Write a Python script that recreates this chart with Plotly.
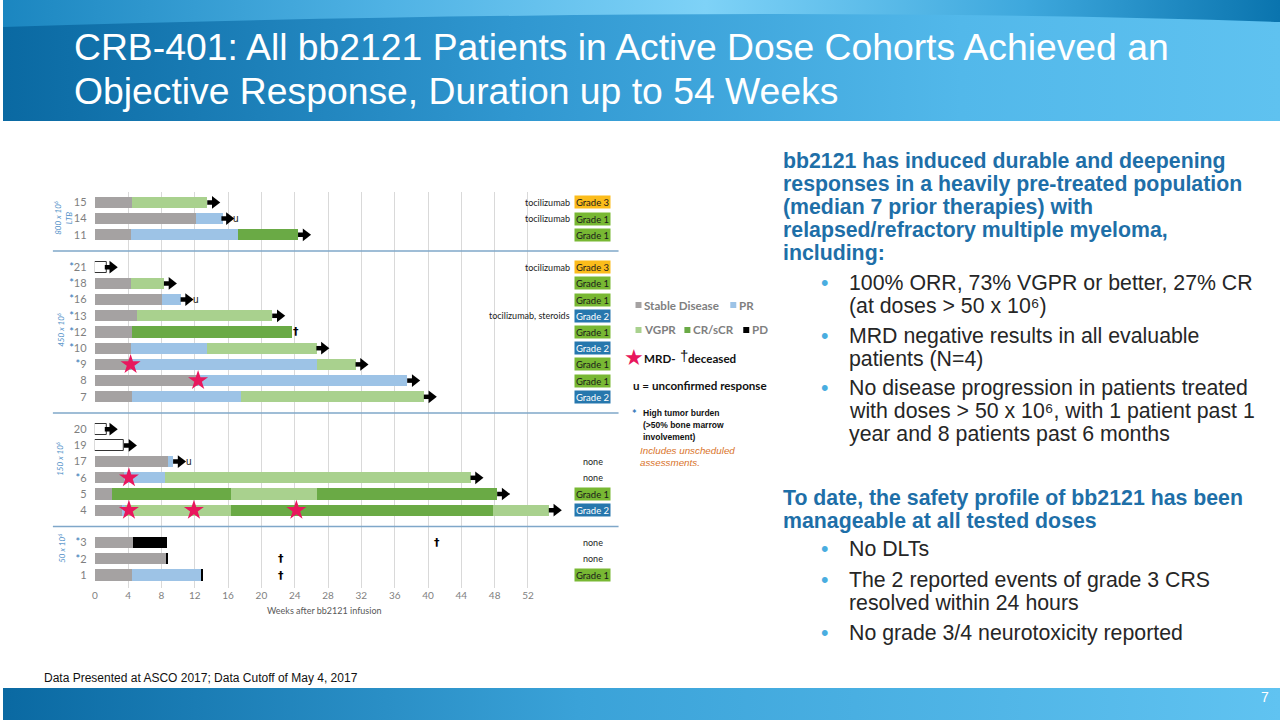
import base64
import plotly.graph_objects as go

W, H = 1280, 720

# ---------------- data ----------------
cohort_names = ["800 x 10<sup>6</sup><br>LTB", "450 x 10<sup>6</sup>", "150 x 10<sup>6</sup>", "50 x 10<sup>6</sup>"]
cohort_800 = ["15", "14", "11"]
cohort_450 = ["21", "18", "16", "13", "12", "10", "9", "8", "7"]
cohort_150 = ["20", "19", "17", "6", "5", "4"]
cohort_50 = ["3", "2", "1"]
high_burden = ["21", "18", "16", "13", "12", "10", "9", "6", "3", "2"]

# response segments (weeks after infusion)
sd_rows = ["15", "14", "11", "18", "16", "13", "12", "10", "9", "8", "7", "17", "6", "5", "4", "3", "2", "1"]
sd_end = [4.5, 12.1, 4.3, 4.3, 8.0, 5.0, 4.5, 4.3, 4.3, 12.4, 4.5, 8.8, 3.5, 2.1, 3.2, 4.6, 8.6, 4.5]

pr_rows = ["14", "11", "16", "10", "9", "8", "7", "17", "6", "4", "1"]
pr_start = [12.1, 4.3, 8.0, 4.3, 4.3, 12.4, 4.5, 8.8, 3.5, 3.2, 4.5]
pr_end = [15.4, 17.2, 10.3, 13.5, 26.6, 37.5, 17.5, 9.4, 8.4, 3.6, 12.7]

vgpr_rows = ["15", "18", "13", "10", "9", "7", "6", "5", "4", "4"]
vgpr_start = [4.5, 4.3, 5.0, 13.5, 26.6, 17.5, 8.4, 16.3, 3.6, 47.8]
vgpr_end = [13.5, 8.3, 21.3, 26.6, 31.3, 39.5, 45.1, 26.6, 16.3, 54.5]

cr_rows = ["11", "12", "5", "5", "4"]
cr_start = [17.2, 4.5, 2.1, 26.6, 16.3]
cr_end = [24.4, 23.6, 16.3, 48.3, 47.8]

pd_rows = ["3", "2", "1"]
pd_start = [4.6, 8.6, 12.7]
pd_end = [8.6, 8.8, 12.95]

pending_rows = ["21", "20", "19"]
pending_end = [1.4, 1.4, 3.5]

# ongoing response arrows: start at week
arrow_rows = ["15", "14", "11", "21", "18", "16", "13", "10", "9", "8", "7", "20", "19", "17", "6", "5", "4"]
arrow_week = [13.5, 15.2, 24.4, 1.2, 8.3, 10.3, 21.3, 26.6, 31.3, 37.5, 39.5, 1.2, 3.5, 9.4, 45.1, 48.3, 54.5]

star_rows = ["9", "8", "6", "4", "4", "4"]
star_week = [4.3, 12.4, 4.1, 4.1, 11.9, 24.2]

dagger_rows = ["12", "3", "2", "1"]
dagger_week = [24.2, 41.1, 22.4, 22.4]

u_rows = ["14", "16", "17"]
u_week = [17.0, 12.2, 11.3]

crs_rows = ["15", "14", "11", "21", "18", "16", "13", "12", "10", "9", "8", "7", "17", "6", "5", "4", "3", "2", "1"]
crs_grade = ["Grade 3", "Grade 1", "Grade 1", "Grade 3", "Grade 1", "Grade 1", "Grade 2", "Grade 1", "Grade 2",
             "Grade 1", "Grade 1", "Grade 2", "none", "none", "Grade 1", "Grade 2", "none", "none", "Grade 1"]
treat_rows = ["15", "14", "21", "13"]
treat_text = ["tocilizumab", "tocilizumab", "tocilizumab", "tocilizumab, steroids"]

x_ticks = [0, 4, 8, 12, 16, 20, 24, 28, 32, 36, 40, 44, 48, 52]

# ---------------- styles ----------------
C_SD, C_PR, C_VGPR, C_CR, C_PD = "#a5a2a2", "#9dc3e6", "#a9d18e", "#6aaa45", "#000000"
C_STAR = "#e8175d"
GRADE_COL = {"Grade 1": ("#78b833", "#1a1a1a"), "Grade 2": ("#2677ad", "#ffffff"), "Grade 3": ("#fbbc1b", "#1a1a1a")}
CHART_FONT = "Lato"
TEXT_FONT = "Liberation Sans, Arial, sans-serif"
BLUE_HEAD = "#1e6fa8"
ARROW_LEN = 1.45

# slots
cohorts = [cohort_800, cohort_450, cohort_150, cohort_50]
order = []
for i, c in enumerate(cohorts):
    order += c
    if i < len(cohorts) - 1:
        order.append(None)
n = len(order)
slot = {p: n - 1 - i for i, p in enumerate(order) if p is not None}
gap_slots = [n - 1 - i for i, p in enumerate(order) if p is None]


def px(x):
    return x / W


def py(y):
    return 1 - y / H


x0_px = 92.0
ppw = 8.35
x1_px = 617
top_px, bot_px = 192, 588
pps = 16.2


def wk(xp):
    return (xp - x0_px) / ppw


fig = go.Figure()

BW = 0.68


def add_bars(rows, start, end, color, line_color=None):
    fig.add_trace(go.Bar(
        orientation="h", y=[slot[r] for r in rows], x=[e - s for s, e in zip(start, end)], base=start,
        width=BW, marker=dict(color=color, line=dict(width=1 if line_color else 0, color=line_color or color)),
        showlegend=False, hoverinfo="skip"))


add_bars(sd_rows, [0] * len(sd_rows), sd_end, C_SD)
add_bars(pr_rows, pr_start, pr_end, C_PR)
add_bars(vgpr_rows, vgpr_start, vgpr_end, C_VGPR)
add_bars(cr_rows, cr_start, cr_end, C_CR)
add_bars(pd_rows, pd_start, pd_end, C_PD)
add_bars(pending_rows, [0] * len(pending_rows), pending_end, "#ffffff", "#333333")

# arrows: shaft + head
shaft_x, shaft_y = [], []
for r, w in zip(arrow_rows, arrow_week):
    shaft_x += [w, w + ARROW_LEN - 0.5, None]
    shaft_y += [slot[r], slot[r], None]
fig.add_trace(go.Scatter(x=shaft_x, y=shaft_y, mode="lines", line=dict(color="#000000", width=4.5),
                         showlegend=False, hoverinfo="skip"))
fig.add_trace(go.Scatter(x=[w + ARROW_LEN - 0.55 for w in arrow_week], y=[slot[r] for r in arrow_rows],
                         mode="markers", marker=dict(symbol="triangle-right", size=11, color="#000000",
                                                     line=dict(width=0)),
                         showlegend=False, hoverinfo="skip"))

fig.add_trace(go.Scatter(
    x=star_week, y=[slot[r] for r in star_rows], mode="markers",
    marker=dict(symbol="star", size=15, color=C_STAR, line=dict(width=0)),
    showlegend=False, hoverinfo="skip"))

ann = []
for r, w in zip(dagger_rows, dagger_week):
    ann.append(dict(x=w, y=slot[r], xref="x", yref="y", text="<b>†</b>", showarrow=False,
                    font=dict(size=11, color="#000000", family="DejaVu Sans")))
for r, w in zip(u_rows, u_week):
    ann.append(dict(x=w, y=slot[r], xref="x", yref="y", text="u", showarrow=False,
                    font=dict(size=10, color="#222222", family=TEXT_FONT)))
# CRS grades
GX = wk(591)
TX = wk(570)
for r, g in zip(crs_rows, crs_grade):
    if g == "none":
        ann.append(dict(x=GX, y=slot[r], xref="x", yref="y", text="none", showarrow=False,
                        font=dict(size=9, color="#222222", family=CHART_FONT)))
    else:
        bg, fc = GRADE_COL[g]
        ann.append(dict(x=GX, y=slot[r], xref="x", yref="y", text=g, showarrow=False, bgcolor=bg,
                        width=35, height=12, borderpad=0, align="center",
                        font=dict(size=9.5, color=fc, family=CHART_FONT)))
for r, t in zip(treat_rows, treat_text):
    ann.append(dict(x=TX, y=slot[r], xref="x", yref="y", text=t, showarrow=False, xanchor="right",
                    font=dict(size=9, color="#222222", family=CHART_FONT)))

# cohort labels
cohort_px = [(60, 218), (58, 330), (57, 459), (58, 548)]
for name, (cx, cy) in zip(cohort_names, cohort_px):
    ann.append(dict(x=px(cx), y=py(cy), xref="paper", yref="paper", text="<i>" + name + "</i>", textangle=-90,
                    xanchor="center", yanchor="middle",
                    showarrow=False, font=dict(size=8, color="#4f8fc7", family=CHART_FONT)))

# axis title
ann.append(dict(x=px(322), y=py(610), xref="paper", yref="paper", text="Weeks after bb2121 infusion",
                xanchor="center", yanchor="middle",
                showarrow=False, font=dict(size=9, color="#595959", family=CHART_FONT)))

shapes = []
for g in gap_slots:
    shapes.append(dict(type="line", xref="paper", yref="y", x0=px(50), x1=px(617), y0=g, y1=g,
                       line=dict(color="#7fa7c9", width=1.5)))


def txt(x, y, text, size, color, bold=False, italic=False, family=TEXT_FONT, anchor="left"):
    t = text
    if bold:
        t = "<b>" + t + "</b>"
    if italic:
        t = "<i>" + t + "</i>"
    ann.append(dict(x=px(x), y=py(y), xref="paper", yref="paper", text=t, showarrow=False, xanchor=anchor,
                    yanchor="middle", font=dict(size=size, color=color, family=family)))


# legend
LG = "#7f7f7f"
for (sx, sy, col) in [(637, 305, C_SD), (732, 305, C_PR), (637, 330, C_VGPR), (686, 330, C_CR), (745, 330, C_PD)]:
    shapes.append(dict(type="rect", xref="paper", yref="paper", x0=px(sx - 3), x1=px(sx + 3),
                       y0=py(sy + 3), y1=py(sy - 3), fillcolor=col, line=dict(width=0)))
txt(641, 305, "Stable Disease", 11.6, LG, bold=True, family=CHART_FONT)
txt(736, 305, "PR", 11.6, LG, bold=True, family=CHART_FONT)
txt(641, 330, "VGPR", 11.6, LG, bold=True, family=CHART_FONT)
txt(690, 330, "CR/sCR", 11.6, LG, bold=True, family=CHART_FONT)
txt(749, 330, "PD", 11.6, LG, bold=True, family=CHART_FONT)
txt(620, 357, "★", 22, C_STAR, family="DejaVu Sans")
txt(640, 358, "MRD-", 11.6, "#111111", bold=True, family=CHART_FONT)
txt(677, 355, "†", 15, "#111111", family=TEXT_FONT)
txt(685, 358, "deceased", 11.6, "#111111", bold=True, family=CHART_FONT)
txt(629, 385, "u = unconfirmed response", 11.6, "#111111", bold=True, family=CHART_FONT)
txt(628, 413, "*", 11, "#2e75b6", bold=True, family=CHART_FONT)
txt(639, 413, "High tumor burden", 8.5, "#111111", bold=True)
txt(639, 425, "(>50% bone marrow", 8.5, "#111111", bold=True)
txt(639, 437, "involvement)", 8.5, "#111111", bold=True)
txt(636, 450, "Includes unscheduled", 9.8, "#d9742b", italic=True)
txt(636, 462, "assessments.", 9.8, "#d9742b", italic=True)

# title
txt(69, 47, "CRB-401: All bb2121 Patients in Active Dose Cohorts Achieved an", 37.3, "#ffffff")
txt(69, 91, "Objective Response, Duration up to 54 Weeks", 37.3, "#ffffff")

# right text
FS = 21.3
head1 = ["bb2121 has induced durable and deepening", "responses in a heavily pre-treated population",
         "(median 7 prior therapies) with", "relapsed/refractory multiple myeloma,", "including:"]
for i, line in enumerate(head1):
    txt(780, 161 + 23 * i, line, FS, BLUE_HEAD, bold=True)
bullets1 = [
    (283, ["100% ORR, 73% VGPR or better, 27% CR", "(at doses > 50 x 10⁶)"]),
    (336, ["MRD negative results in all evaluable", "patients (N=4)"]),
    (388, ["No disease progression in patients treated", "with doses > 50 x 10⁶, with 1 patient past 1",
           "year and 8 patients past 6 months"]),
]
bullets2 = [
    (549, ["No DLTs"]),
    (580, ["The 2 reported events of grade 3 CRS", "resolved within 24 hours"]),
    (633, ["No grade 3/4 neurotoxicity reported"]),
]
for y0, lines in bullets1 + bullets2:
    txt(818, y0, "•", FS, "#49ade0")
    for j, line in enumerate(lines):
        txt(846, y0 + 23 * j, line, FS, "#262626")
head2 = ["To date, the safety profile of bb2121 has been", "manageable at all tested doses"]
for i, line in enumerate(head2):
    txt(780, 498 + 23 * i, line, FS, BLUE_HEAD, bold=True)

txt(39, 678, "Data Presented at ASCO 2017; Data Cutoff of May 4, 2017", 12, "#111111")
txt(1271, 697, "7", 14, "#ffffff", anchor="right")

# background banners (decoration)
header_svg = """<svg xmlns='http://www.w3.org/2000/svg' width='1280' height='121' preserveAspectRatio='none'>
<defs>
<linearGradient id='g1' x1='0' x2='1' y1='0' y2='0'>
<stop offset='0' stop-color='#0a69a2'/><stop offset='0.4' stop-color='#3097d0'/>
<stop offset='0.75' stop-color='#52b8ea'/><stop offset='1' stop-color='#5fc2f0'/></linearGradient>
<linearGradient id='g2' x1='0' x2='1' y1='0' y2='0'>
<stop offset='0' stop-color='#1b86c0'/><stop offset='0.3' stop-color='#4fb2e4'/>
<stop offset='0.55' stop-color='#7ed2f7'/><stop offset='0.8' stop-color='#3ea8dd'/>
<stop offset='1' stop-color='#0a74ae'/></linearGradient>
</defs>
<rect width='1280' height='121' fill='url(#g1)'/>
<path d='M0,0 H1280 V22 Q760,4 0,27 Z' fill='url(#g2)'/>
</svg>"""
footer_svg = """<svg xmlns='http://www.w3.org/2000/svg' width='1280' height='32' preserveAspectRatio='none'>
<defs><linearGradient id='g3' x1='0' x2='1' y1='0' y2='0'>
<stop offset='0' stop-color='#0a69a2'/><stop offset='0.45' stop-color='#3aa2d8'/>
<stop offset='1' stop-color='#60c3f1'/></linearGradient></defs>
<rect width='1280' height='32' fill='url(#g3)'/></svg>"""


def uri(s):
    return "data:image/svg+xml;base64," + base64.b64encode(s.encode()).decode()


images = [
    dict(source=uri(header_svg), xref="paper", yref="paper", x=0, y=1, sizex=1, sizey=121 / H,
         sizing="stretch", layer="below", xanchor="left", yanchor="top"),
    dict(source=uri(footer_svg), xref="paper", yref="paper", x=0, y=py(688), sizex=1, sizey=32 / H,
         sizing="stretch", layer="below", xanchor="left", yanchor="top"),
]

# y tick labels
tickvals = [slot[p] for p in slot]
ticktext = [("<span style='color:#2e75b6'>*</span>" + p) if p in high_burden else p for p in slot]

fig.update_layout(
    width=W, height=H, margin=dict(l=0, r=0, t=0, b=0),
    paper_bgcolor="#ffffff", plot_bgcolor="#ffffff",
    barmode="overlay", bargap=0,
    xaxis=dict(domain=[px(x0_px), px(x1_px)], range=[0, (x1_px - x0_px) / ppw], tickvals=x_ticks,
               showgrid=True, gridcolor="#d9d9d9", gridwidth=1, zeroline=False, showline=False,
               ticks="", tickfont=dict(size=10, color="#7f7f7f", family=CHART_FONT), fixedrange=True),
    yaxis=dict(domain=[py(bot_px), py(top_px)], range=[(575 - bot_px) / pps, (575 - top_px) / pps],
               tickvals=tickvals, ticktext=ticktext, showgrid=False, zeroline=False, showline=False,
               ticks="outside", ticklen=5, tickcolor="rgba(0,0,0,0)",
               tickfont=dict(size=11, color="#7f7f7f", family=CHART_FONT), fixedrange=True),
    annotations=ann, shapes=shapes, images=images,
    font=dict(family=CHART_FONT),
)

fig.write_html("out.html", config={"displayModeBar": False},
               post_script="document.body.style.margin='0';document.body.style.overflow='hidden';")
